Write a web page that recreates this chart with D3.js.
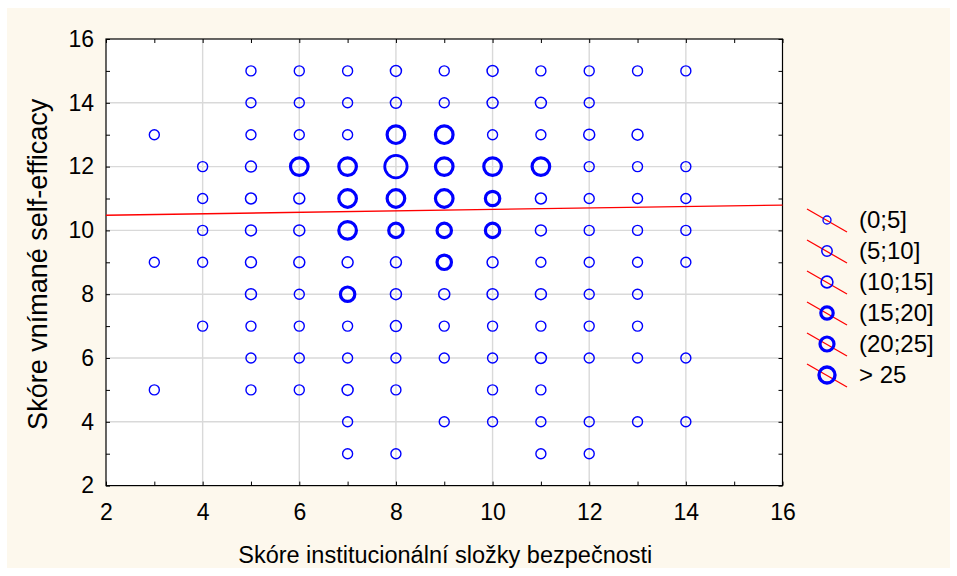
<!DOCTYPE html>
<html>
<head>
<meta charset="utf-8">
<script src="https://cdn.jsdelivr.net/npm/d3@7"></script>
<style>
  body { margin: 0; background: #fff; }
  text { font-family: "Liberation Sans", Arial, sans-serif; }
</style>
</head>
<body>
<div id="bubble-scatter"></div>
<script>
// one entry per row of the frequency scatter (y value), with its x values and size class
const rowY = [15, 14, 13, 12, 11, 10, 9, 8, 7, 6, 5, 4, 3];
const rowX = [
    [5, 6, 7, 8, 9, 10, 11, 12, 13, 14],
    [5, 6, 7, 8, 9, 10, 11, 12],
    [3, 5, 6, 7, 8, 9, 10, 11, 12, 13],
    [4, 5, 6, 7, 8, 9, 10, 11, 12, 13, 14],
    [4, 5, 6, 7, 8, 9, 10, 11, 12, 13, 14],
    [4, 5, 6, 7, 8, 9, 10, 11, 12, 13, 14],
    [3, 4, 5, 6, 7, 8, 9, 10, 11, 12, 13, 14],
    [5, 6, 7, 8, 9, 10, 11, 12, 13],
    [4, 5, 6, 7, 8, 9, 10, 11, 12, 13],
    [5, 6, 7, 8, 9, 10, 11, 12, 13, 14],
    [3, 5, 6, 7, 8, 10, 11],
    [7, 9, 10, 11, 12, 13, 14],
    [7, 8, 11, 12]
];
// frequency class index into freqLabels (0 = (0;5] ... 5 = > 25)
const rowClass = [
    [0, 0, 0, 1, 0, 1, 0, 0, 0, 0],
    [0, 0, 0, 1, 0, 1, 1, 0],
    [0, 0, 0, 0, 4, 4, 0, 0, 1, 1],
    [0, 1, 4, 4, 5, 4, 4, 4, 0, 0, 0],
    [0, 1, 1, 4, 4, 4, 3, 1, 0, 0, 0],
    [0, 1, 1, 4, 3, 3, 3, 1, 0, 0, 0],
    [0, 0, 1, 1, 1, 1, 3, 1, 0, 0, 0, 0],
    [1, 0, 3, 1, 1, 1, 1, 0, 0],
    [0, 0, 0, 0, 1, 0, 0, 0, 0, 0],
    [0, 0, 0, 0, 0, 0, 1, 0, 0, 0],
    [0, 0, 0, 1, 0, 0, 0],
    [0, 0, 0, 0, 0, 0, 0],
    [0, 0, 0, 0]
];
const freqLabels = ["(0;5]", "(5;10]", "(10;15]", "(15;20]", "(20;25]", "> 25"];
const xTicks = [2, 4, 6, 8, 10, 12, 14, 16];
const yTicks = [2, 4, 6, 8, 10, 12, 14, 16];
// fitted line y = a + b*x
const regIntercept = 10.43;
const regSlope = 0.0227;

const xTitle = "Skóre institucionální složky bezpečnosti";
const yTitle = "Skóre vnímané self-efficacy";

const width = 957;
const height = 576;
const plotLeft = 106;
const plotRight = 782.5;
const plotTop = 39;
const plotBottom = 485.6;

// marker look per frequency class
const markRadius = [5.0, 5.5, 5.9, 7.2, 8.8, 11.2];
const markStroke = [1.4, 1.5, 1.6, 3.2, 3.2, 2.8];
const legendRadius = [4.0, 5.2, 5.9, 6.2, 7.0, 8.0];
const legendStroke = [1.3, 1.5, 1.6, 3.2, 3.2, 3.4];

const points = rowY.flatMap((y, i) => rowX[i].map((x, j) => ({ x, y, c: rowClass[i][j] })));

const x = d3.scaleLinear([2, 16], [plotLeft, plotRight]);
const y = d3.scaleLinear([2, 16], [plotBottom, plotTop]);

const svg = d3.select("div#bubble-scatter")
    .append("svg")
    .attr("width", width)
    .attr("height", height)
    .attr("viewBox", [0, 0, width, height]);

// cream page background with a thin white margin
svg.append("rect")
    .attr("x", 7).attr("y", 8)
    .attr("width", 943).attr("height", 560)
    .attr("fill", "#fdf8ed");

svg.append("rect")
    .attr("x", plotLeft).attr("y", plotTop)
    .attr("width", plotRight - plotLeft).attr("height", plotBottom - plotTop)
    .attr("fill", "#fff");

// grid lines at the labelled values
const grid = svg.append("g")
    .attr("stroke", "#d9d9d9")
    .attr("stroke-width", 1.4);

grid.selectAll("line.gx")
    .data(xTicks.slice(1, -1))
    .join("line")
    .attr("x1", d => x(d)).attr("x2", d => x(d))
    .attr("y1", plotTop).attr("y2", plotBottom);

grid.selectAll("line.gy")
    .data(yTicks.slice(1, -1))
    .join("line")
    .attr("y1", d => y(d)).attr("y2", d => y(d))
    .attr("x1", plotLeft).attr("x2", plotRight);

// inward ticks on all four sides, one per unit
const unitTicks = d3.range(2, 17);
const tickLen = 4;
const tickStyle = g => g.select(".domain").remove();

svg.append("g")
    .attr("transform", `translate(0,${plotBottom})`)
    .call(d3.axisTop(x).tickValues(unitTicks).tickSize(tickLen).tickFormat(""))
    .call(tickStyle);
svg.append("g")
    .attr("transform", `translate(0,${plotTop})`)
    .call(d3.axisBottom(x).tickValues(unitTicks).tickSize(tickLen).tickFormat(""))
    .call(tickStyle);
svg.append("g")
    .attr("transform", `translate(${plotLeft},0)`)
    .call(d3.axisRight(y).tickValues(unitTicks).tickSize(tickLen).tickFormat(""))
    .call(tickStyle);
svg.append("g")
    .attr("transform", `translate(${plotRight},0)`)
    .call(d3.axisLeft(y).tickValues(unitTicks).tickSize(tickLen).tickFormat(""))
    .call(tickStyle);

// tick labels
const gx = svg.append("g")
    .attr("transform", `translate(0,${plotBottom})`)
    .call(d3.axisBottom(x).tickValues(xTicks).tickSize(0).tickPadding(18))
    .call(g => g.select(".domain").remove());
gx.selectAll("text")
    .attr("font-size", 23)
    .attr("fill", "#000")
    .attr("font-family", "Liberation Sans, Arial, sans-serif");

const gy = svg.append("g")
    .attr("transform", `translate(${plotLeft},0)`)
    .call(d3.axisLeft(y).tickValues(yTicks).tickSize(0).tickPadding(12))
    .call(g => g.select(".domain").remove());
gy.selectAll("text")
    .attr("font-size", 23)
    .attr("fill", "#000")
    .attr("font-family", "Liberation Sans, Arial, sans-serif");

// plot frame
svg.append("rect")
    .attr("x", plotLeft).attr("y", plotTop)
    .attr("width", plotRight - plotLeft).attr("height", plotBottom - plotTop)
    .attr("fill", "none")
    .attr("stroke", "#000")
    .attr("stroke-width", 1.2);

// regression line
svg.append("line")
    .attr("x1", x(2)).attr("y1", y(regIntercept + regSlope * 2))
    .attr("x2", x(16)).attr("y2", y(regIntercept + regSlope * 16))
    .attr("stroke", "#ff0000")
    .attr("stroke-width", 1.3);

// bubbles
svg.append("g")
    .attr("fill", "none")
    .attr("stroke", "#0000ff")
    .selectAll("circle")
    .data(points)
    .join("circle")
    .attr("cx", d => x(d.x))
    .attr("cy", d => y(d.y))
    .attr("r", d => markRadius[d.c])
    .attr("stroke-width", d => markStroke[d.c]);

// axis titles
svg.append("text")
    .attr("x", (plotLeft + plotRight) / 2 + 1)
    .attr("y", 563)
    .attr("text-anchor", "middle")
    .attr("font-size", 23.5)
    .text(xTitle);

svg.append("text")
    .attr("transform", `translate(47,${(plotTop + plotBottom) / 2 + 2}) rotate(-90)`)
    .attr("text-anchor", "middle")
    .attr("font-size", 27)
    .text(yTitle);

// legend
const legend = svg.append("g")
    .selectAll("g")
    .data(freqLabels)
    .join("g")
    .attr("transform", (d, i) => `translate(827,${220 + i * 31})`);

legend.append("line")
    .attr("x1", -20).attr("y1", -11)
    .attr("x2", 20).attr("y2", 12)
    .attr("stroke", "#ff0000")
    .attr("stroke-width", 1.3);

legend.append("circle")
    .attr("r", (d, i) => legendRadius[i])
    .attr("fill", "none")
    .attr("stroke", "#0000ff")
    .attr("stroke-width", (d, i) => legendStroke[i]);

legend.append("text")
    .attr("x", 32)
    .attr("dy", "0.35em")
    .attr("font-size", 24)
    .text(d => d);
</script>
</body>
</html>
